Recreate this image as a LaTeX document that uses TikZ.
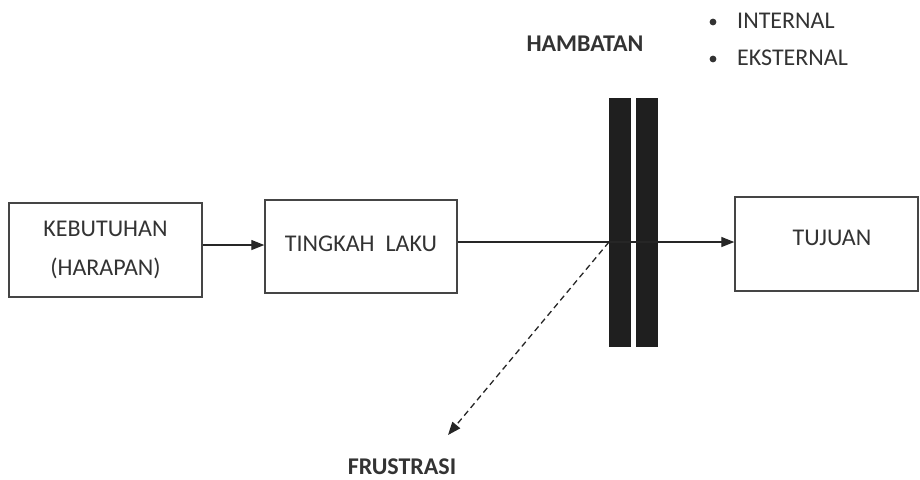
\documentclass[tikz,border=0pt]{standalone}
\usepackage{fontspec}
\setmainfont{Carlito}
\usetikzlibrary{arrows.meta}
\definecolor{ink}{HTML}{333333}
\definecolor{edge}{HTML}{454545}
\begin{document}
\begin{tikzpicture}[x=1pt,y=-1pt,
  box/.style={draw=edge,line width=1.4pt,fill=white,inner sep=0pt},
  lbl/.style={text=ink,font=\fontsize{24}{29}\selectfont,inner sep=0pt},
  blbl/.style={text=ink,font=\fontsize{24}{29}\selectfont\bfseries,inner sep=0pt},
  bar/.style={fill=black!88,draw=none,inner sep=0pt,minimum width=22pt,minimum height=249pt},
  conn/.style={draw=black!85,line width=1.3pt,-{Triangle[length=13pt,width=10pt]}},
  dconn/.style={draw=black!85,line width=1.3pt,dash pattern=on 6pt off 4pt,-{Triangle[length=13pt,width=10pt]}}]
\useasboundingbox (0,0) rectangle (920,479);
\node[box,minimum width=193pt,minimum height=94pt] (keb) at (105.5,250) {};
\node[box,minimum width=192pt,minimum height=93pt] (tin) at (361,246.5) {};
\node[box,minimum width=183pt,minimum height=94pt] (tuj) at (826.5,244) {};
\node[lbl] (kebt) at (105.5,229) {KEBUTUHAN};
\node[lbl] (kebt2) at (105.5,268) {(HARAPAN)};
\node[lbl] (tint) at (361,244) {TINGKAH\ \ LAKU};
\node[lbl] (tujt) at (832,238) {TUJUAN};
\node[bar] (b1) at (620,222.5) {};
\node[bar] (b2) at (647,222.5) {};
\node[blbl] (ham) at (585,44) {HAMBATAN};
\node[lbl,anchor=west] (int) at (737,21) {INTERNAL};
\node[lbl,anchor=west] (eks) at (737,58) {EKSTERNAL};
\fill[ink] (713,22) circle (3.4pt);
\fill[ink] (713,59) circle (3.4pt);
\node[blbl] (fru) at (402,467) {FRUSTRASI};
\coordinate (h) at (609,242);
\coordinate (ft) at (448,435);
\draw[conn] (keb.east |- 0,245) -- (tin.west |- 0,245);
\draw[draw=black!85,line width=1.3pt] (tin.east |- h) -- (h);
\draw[conn] (h) -- (tuj.west |- h);
\draw[dconn] (h) -- (ft);
\end{tikzpicture}
\end{document}
